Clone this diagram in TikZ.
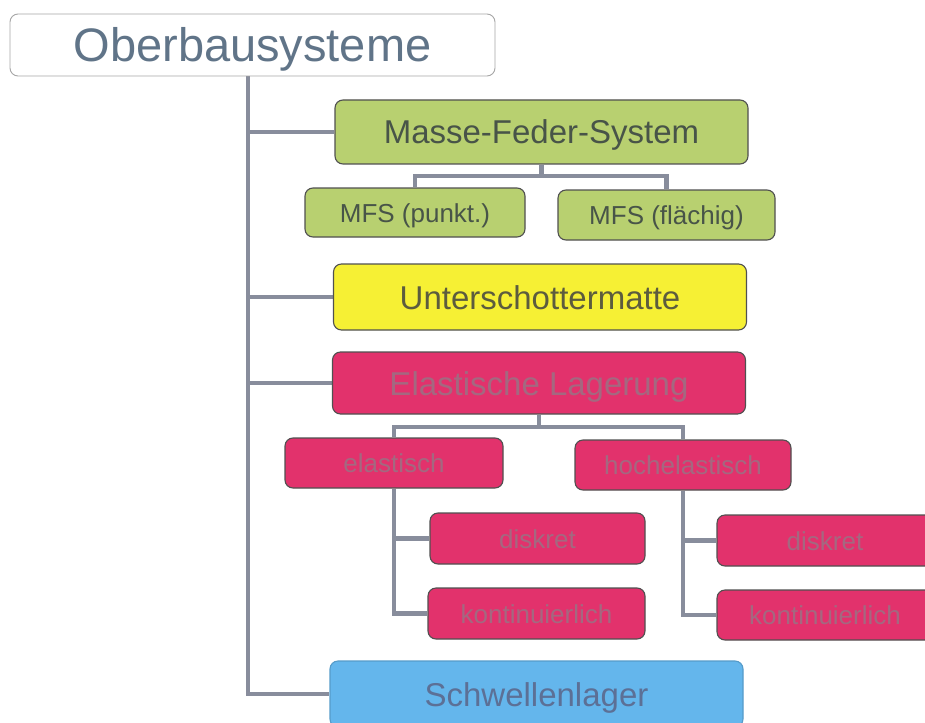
\documentclass[tikz,border=0pt]{standalone}
\usepackage{fontspec}
\setmainfont{Liberation Sans}
\usetikzlibrary{backgrounds}
\definecolor{cgreen}{RGB}{184,208,112}
\definecolor{cyellow}{RGB}{246,240,52}
\definecolor{cmag}{RGB}{226,50,108}
\definecolor{cblue}{RGB}{100,182,236}
\definecolor{cline}{RGB}{136,141,156}
\definecolor{cborder}{RGB}{80,80,80}
\definecolor{ttop}{RGB}{96,116,136}
\definecolor{tgreen}{RGB}{72,84,72}
\definecolor{tyellow}{RGB}{92,92,62}
\definecolor{tmag}{RGB}{164,104,128}
\definecolor{tblue}{RGB}{92,112,150}
\tikzset{
  box/.style={draw=cborder, line width=1.1pt, rounded corners=8pt, inner sep=0pt, anchor=center, text depth=0pt},
  topbox/.style={box, draw=gray!70, line width=0.9pt, fill=white, text=ttop, minimum width=485pt, minimum height=62pt, text height=34pt, font=\fontsize{47}{50}\selectfont},
  bigbox/.style={box, minimum width=413pt, minimum height=64pt, text height=24pt, font=\fontsize{33}{36}\selectfont},
  smallbox/.style={box, minimum height=50pt, text height=19pt, font=\fontsize{26}{28}\selectfont},
  gbox/.style={fill=cgreen, text=tgreen},
  ybox/.style={fill=cyellow, text=tyellow},
  mbox/.style={fill=cmag, text=tmag},
  bbox/.style={fill=cblue, draw=cblue!85!black, text=tblue},
  conn/.style={draw=cline, line width=4.5pt, line join=miter}
}
\begin{document}
\begin{tikzpicture}[x=1pt,y=-1pt]
\useasboundingbox (0,0) rectangle (925,722);
% nodes
\node[topbox] (top) at (252.5,45) {Oberbausysteme};
\node[bigbox,gbox] (mfs) at (541.5,132) {Masse-Feder-System};
\node[smallbox,gbox,minimum width=220pt,minimum height=49pt] (punkt) at (415,212.5) {MFS (punkt.)};
\node[smallbox,gbox,minimum width=217pt] (flaechig) at (666.5,215) {MFS (flächig)};
\node[bigbox,ybox,minimum height=66pt] (unter) at (540,297) {Unterschottermatte};
\node[bigbox,mbox,minimum height=62pt] (elast) at (539,383) {Elastische Lagerung};
\node[smallbox,mbox,minimum width=218pt] (elastisch) at (394,463) {elastisch};
\node[smallbox,mbox,minimum width=216pt] (hoch) at (683,465) {hochelastisch};
\node[smallbox,mbox,minimum width=215pt,minimum height=51pt] (ldisk) at (537.5,538.5) {diskret};
\node[smallbox,mbox,minimum width=217pt,minimum height=51pt] (lkont) at (536.5,613.5) {kontinuierlich};
\node[smallbox,mbox,minimum width=216pt,minimum height=51pt] (rdisk) at (825,540.5) {diskret};
\node[smallbox,mbox,minimum width=216pt] (rkont) at (825,615) {kontinuierlich};
\node[bigbox,bbox,minimum height=66pt] (schw) at (536.5,694) {Schwellenlager};
% coordinates
\coordinate (tk) at (248,76);
\coordinate (mj) at (541.5,176);
\coordinate (ej) at (539,427);
% connectors
\begin{scope}[on background layer]
\draw[conn] (tk) |- (schw.west);
\draw[conn] (tk |- mfs.west) -- (mfs.west);
\draw[conn] (tk |- unter.west) -- (unter.west);
\draw[conn] (tk |- elast.west) -- (elast.west);
\draw[conn] (mfs.south) -- (mj) -| (punkt.north);
\draw[conn] (mj) -| (flaechig.north);
\draw[conn] (elast.south) -- (ej) -| (elastisch.north);
\draw[conn] (ej) -| (hoch.north);
\draw[conn] (elastisch.south) |- (ldisk.west);
\draw[conn] (elastisch.south) |- (lkont.west);
\draw[conn] (hoch.south) |- (rdisk.west);
\draw[conn] (hoch.south) |- (rkont.west);
\end{scope}
\end{tikzpicture}
\end{document}
